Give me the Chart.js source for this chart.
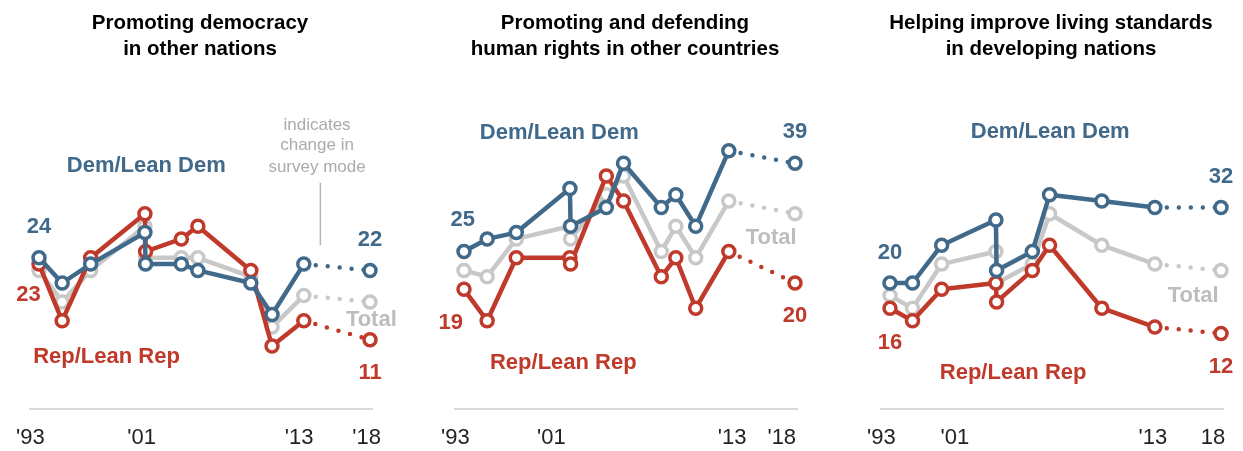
<!DOCTYPE html>
<html>
<head>
<meta charset="utf-8">
<script src="https://cdn.jsdelivr.net/npm/chart.js@4.4.1/dist/chart.umd.min.js"></script>
<style>
  body { margin: 0; background: #fff; width: 1243px; height: 451px; position: relative; overflow: hidden; font-family: "Liberation Sans", Arial, sans-serif; }
  .panel { position: absolute; top: 0; height: 451px; }
  .title { position: absolute; top: 9px; left: 0; width: 400px; text-align: center; font-weight: 700; font-size: 20.5px; line-height: 26px; color: #000; white-space: nowrap; }
  canvas { position: absolute; top: 0; left: 0; }
</style>
</head>
<body>
<div class="panel" style="left:0;width:414px">
  <canvas id="c1" width="414" height="451"></canvas>
  <div class="title">Promoting democracy<br>in other nations</div>
</div>
<div class="panel" style="left:425px;width:414px">
  <canvas id="c2" width="414" height="451"></canvas>
  <div class="title">Promoting and defending<br>human rights in other countries</div>
</div>
<div class="panel" style="left:851px;width:392px">
  <canvas id="c3" width="392" height="451"></canvas>
  <div class="title">Helping improve living standards<br>in developing nations</div>
</div>
<script>
const BLUE = '#40698a';
const RED = '#bf3a2b';
const GRAY = '#c8c8c8';
const GRAY_TEXT = '#bdbdbd';
const FONT = '"Liberation Sans", Arial, sans-serif';

// survey dates (year)
const years1 = [1993, 1994.75, 1996.9, 2001, 2001.05, 2003.75, 2005, 2009, 2010.6, 2013, 2018];
const years2 = [1993, 1994.75, 1996.95, 2001, 2001.05, 2003.75, 2005.05, 2007.9, 2009, 2010.5, 2013, 2018];
const years3 = [1993, 1994.7, 1996.9, 2001, 2001.05, 2003.75, 2005.05, 2009, 2013, 2018];

// Promoting democracy in other nations
const dem1 = [24, 20, 23, 28, 23, 23, 22, 20, 15, 23, 22];
const rep1 = [23, 14, 24, 31, 25, 27, 29, 22, 10, 14, 11];
const total1 = [22, 17, 22, 29, 24, 24, 24, 21, 13, 18, 17];

// Promoting and defending human rights in other countries
const dem2 = [25, 27, 28, 35, 29, 32, 39, 32, 34, 29, 41, 39];
const rep2 = [19, 14, 24, 24, 23, 37, 33, 21, 24, 16, 25, 20];
const total2 = [22, 21, 27, 29, 27, 34, 37, 25, 29, 24, 33, 31];

// Helping improve living standards in developing nations
const dem3 = [20, 20, 26, 30, 22, 25, 34, 33, 32, 32];
const rep3 = [16, 14, 19, 20, 17, 22, 26, 16, 13, 12];
const total3 = [18, 16, 23, 25, 20, 23, 31, 26, 23, 22];

// tick labels (placed where the original puts them)
const tickPos1 = [1992.35, 2000.75, 2012.65, 2017.75];
const tickPos2 = [1992.35, 1999.6, 2013.25, 2017.0];
const tickPos3 = [1992.35, 1997.9, 2012.85, 2017.4];
const tickText1 = ["'93", "'01", "'13", "'18"];
const tickText2 = ["'93", "'01", "'13", "'18"];
const tickText3 = ["'93", "'01", "'13", "18"];

const BOLD = 'bold 22px ' + FONT;
const NOTE = '17px ' + FONT;

const textPlugin = {
  id: 'texts',
  afterDraw(chart, args, opts) {
    const { ctx, scales: { x, y } } = chart;
    ctx.save();
    ctx.textAlign = 'center';
    ctx.textBaseline = 'middle';
    (opts.rules || []).forEach(r => {
      ctx.strokeStyle = r.color;
      ctx.lineWidth = 1.5;
      ctx.beginPath();
      ctx.moveTo(x.getPixelForValue(r.x), y.getPixelForValue(r.y0));
      ctx.lineTo(x.getPixelForValue(r.x), y.getPixelForValue(r.y1));
      ctx.stroke();
    });
    (opts.items || []).forEach(t => {
      ctx.font = t.font || BOLD;
      ctx.fillStyle = t.color;
      ctx.fillText(t.text, x.getPixelForValue(t.at[0]), y.getPixelForValue(t.at[1]));
    });
    ctx.restore();
  }
};

function line(label, years, values, color) {
  const last = values.length - 1;
  return {
    label,
    data: values.map((v, i) => ({ x: years[i], y: v })),
    borderColor: color,
    backgroundColor: '#fff',
    borderWidth: 4.5,
    borderCapStyle: 'round',
    borderJoinStyle: 'round',
    pointRadius: 6,
    pointHoverRadius: 6,
    pointBorderWidth: 3.5,
    pointBackgroundColor: '#fff',
    pointBorderColor: color,
    tension: 0,
    clip: false,
    segment: {
      borderDash: c => (c.p1DataIndex === last ? [0, 12] : undefined)
    }
  };
}

function makeChart(id, years, dem, rep, total, tickPos, tickText, padRight, texts) {
  new Chart(document.getElementById(id), {
    type: 'line',
    data: {
      datasets: [
        line('Dem/Lean Dem', years, dem, BLUE),
        line('Rep/Lean Rep', years, rep, RED),
        line('Total', years, total, GRAY)
      ]
    },
    options: {
      responsive: false,
      animation: false,
      events: [],
      layout: { padding: { left: 28, right: padRight, top: 94, bottom: 0 } },
      plugins: {
        legend: { display: false },
        tooltip: { enabled: false },
        texts
      },
      scales: {
        x: {
          type: 'linear',
          min: 1992.3,
          max: 2018.15,
          grid: { display: false, drawTicks: false },
          border: { display: true, color: '#d9d9d9', width: 2 },
          afterBuildTicks: ax => { ax.ticks = tickPos.map(v => ({ value: v })); },
          afterFit: ax => { ax.height = 42; },
          ticks: {
            autoSkip: false,
            maxRotation: 0,
            padding: 16,
            color: '#222',
            font: { family: FONT, size: 22 },
            callback: (v, i) => tickText[i]
          }
        },
        y: { display: false, min: 0, max: 50 }
      }
    },
    plugins: [textPlugin]
  });
}

makeChart('c1', years1, dem1, rep1, total1, tickPos1, tickText1, 42, {
  rules: [{ x: 2014.25, y0: 35.9, y1: 26.0, color: '#b5b5b5' }],
  items: [
    { text: 'indicates', at: [2014.0, 45.1], color: '#ababab', font: NOTE },
    { text: 'change in', at: [2014.0, 41.8], color: '#ababab', font: NOTE },
    { text: 'survey mode', at: [2014.0, 38.4], color: '#ababab', font: NOTE },
    { text: 'Dem/Lean Dem', at: [2001.1, 38.6], color: BLUE },
    { text: 'Rep/Lean Rep', at: [1998.1, 8.3], color: RED },
    { text: '24', at: [1993, 28.9], color: BLUE },
    { text: '23', at: [1992.2, 18.1], color: RED },
    { text: '22', at: [2018, 26.9], color: BLUE },
    { text: '11', at: [2018, 5.8], color: RED },
    { text: 'Total', at: [2018.1, 14.1], color: GRAY_TEXT }
  ]
});

makeChart('c2', years2, dem2, rep2, total2, tickPos2, tickText2, 42, {
  items: [
    { text: 'Dem/Lean Dem', at: [2000.2, 43.8], color: BLUE },
    { text: 'Rep/Lean Rep', at: [2000.5, 7.25], color: RED },
    { text: '25', at: [1992.9, 30.0], color: BLUE },
    { text: '19', at: [1992.0, 13.7], color: RED },
    { text: '39', at: [2018, 43.9], color: BLUE },
    { text: '20', at: [2018, 14.8], color: RED },
    { text: 'Total', at: [2016.2, 27.1], color: GRAY_TEXT }
  ]
});

makeChart('c3', years3, dem3, rep3, total3, tickPos3, tickText3, 20, {
  items: [
    { text: 'Dem/Lean Dem', at: [2005.1, 43.9], color: BLUE },
    { text: 'Rep/Lean Rep', at: [2002.3, 5.7], color: RED },
    { text: '20', at: [1993, 24.8], color: BLUE },
    { text: '16', at: [1993, 10.5], color: RED },
    { text: '32', at: [2018, 36.9], color: BLUE },
    { text: '12', at: [2018, 6.7], color: RED },
    { text: 'Total', at: [2015.9, 17.9], color: GRAY_TEXT }
  ]
});
</script>
</body>
</html>
